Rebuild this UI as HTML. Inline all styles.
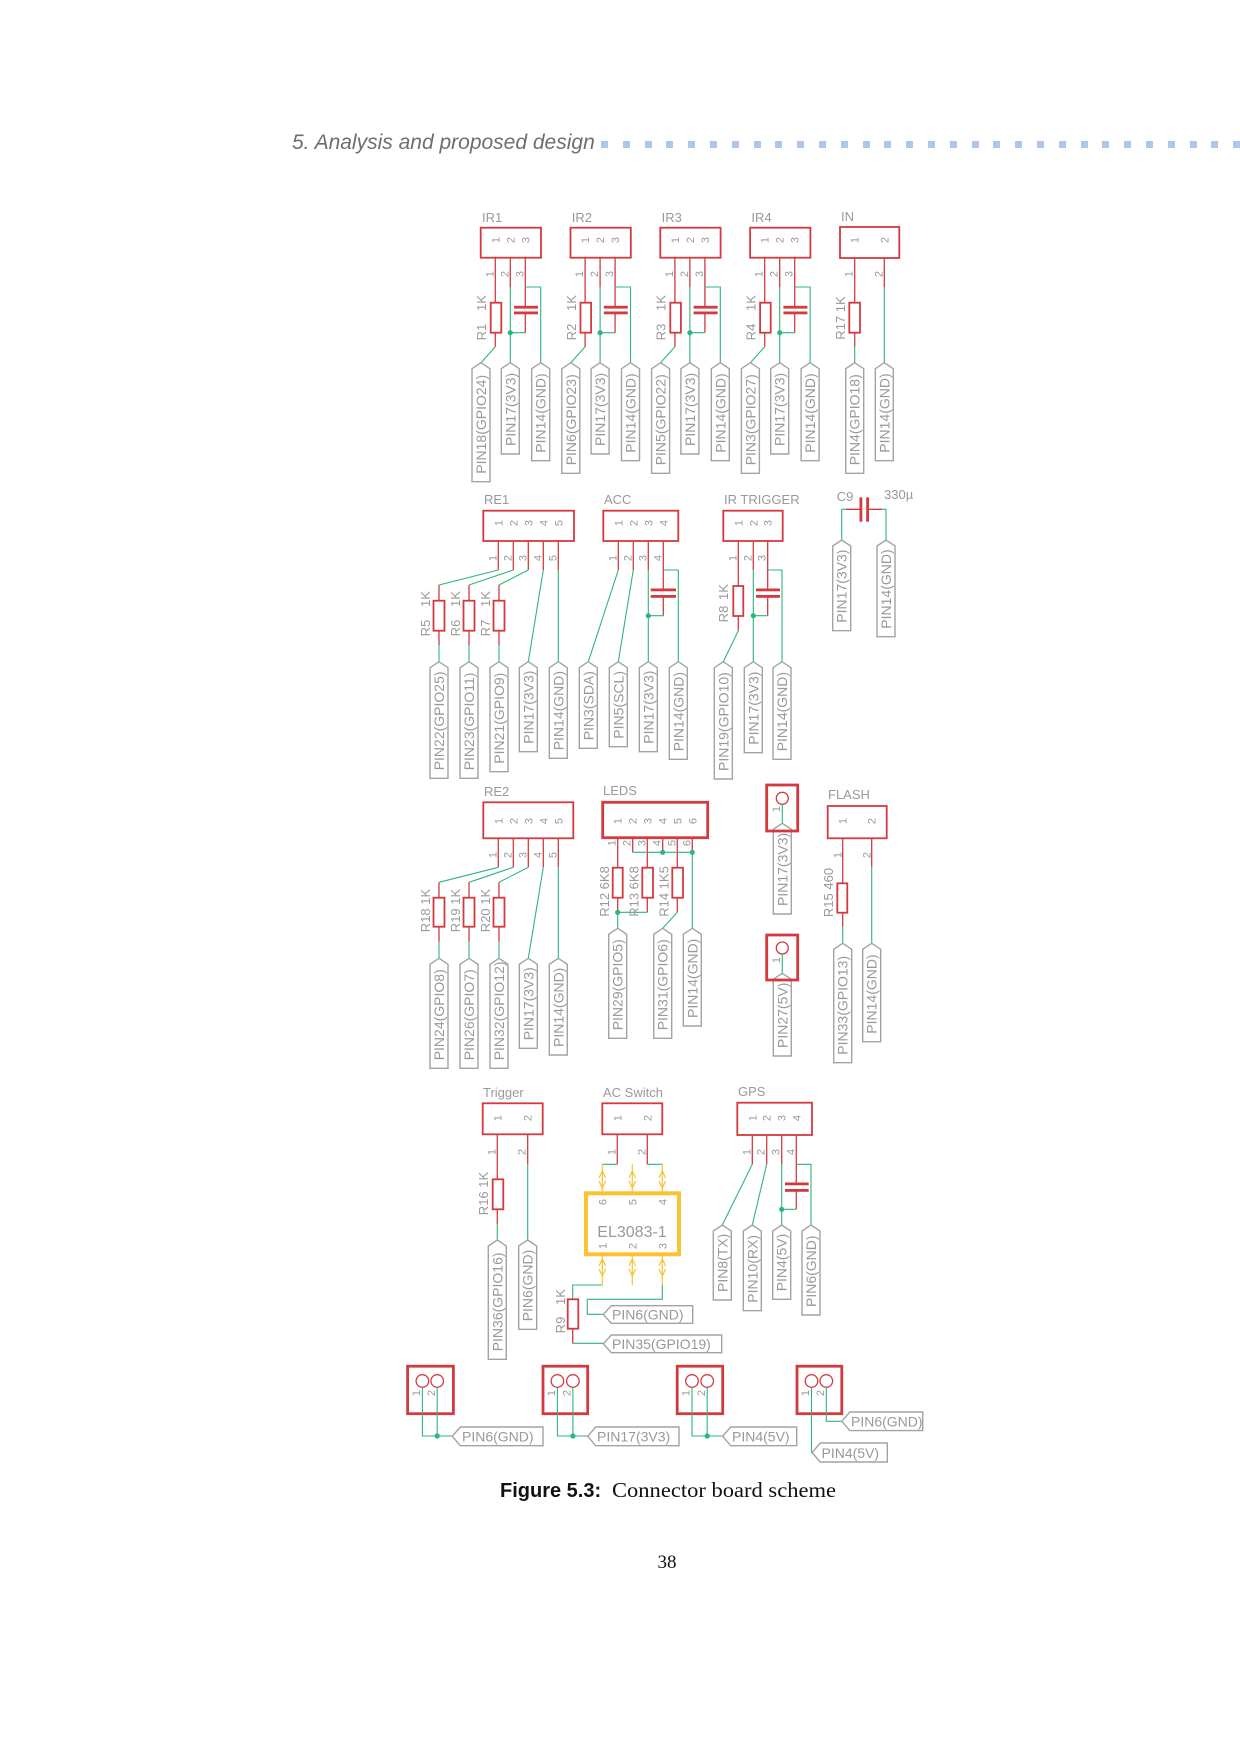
<!DOCTYPE html>
<html><head><meta charset="utf-8"><style>
html,body{margin:0;padding:0;background:#fff;width:1240px;height:1754px;overflow:hidden}
svg{position:absolute;left:0;top:0}
.b{fill:none;stroke:#d33a3f;stroke-width:1.8}
.bt{fill:none;stroke:#d33a3f;stroke-width:2.8}
.r{stroke:#d33a3f;stroke-width:1.3;fill:none}
.g{stroke:#2db57f;stroke-width:1.1;fill:none}
.tg{fill:none;stroke:#a3a3a3;stroke-width:1.4}
.y{stroke:#f8c231;stroke-width:1.2;fill:none}
.cp{fill:#d33a3f}
.d{fill:#2db57f}
text{font-family:"Liberation Sans",sans-serif;fill:#999}
.s14{font-size:14px}.s13{font-size:13px}.s11{font-size:11px}
</style></head><body>
<svg width="1240" height="1754" viewBox="0 0 1240 1754">
<!-- header -->
<text x="292" y="149" style="font-size:21px;font-style:italic;fill:#6e6e6e">5. Analysis and proposed design</text>
<g fill="#adc6ea">
<rect x="601" y="141" width="7" height="7"/><rect x="623" y="141" width="7" height="7"/><rect x="645" y="141" width="7" height="7"/><rect x="666" y="141" width="7" height="7"/><rect x="688" y="141" width="7" height="7"/><rect x="710" y="141" width="7" height="7"/><rect x="732" y="141" width="7" height="7"/><rect x="754" y="141" width="7" height="7"/><rect x="775" y="141" width="7" height="7"/><rect x="797" y="141" width="7" height="7"/><rect x="819" y="141" width="7" height="7"/><rect x="841" y="141" width="7" height="7"/><rect x="863" y="141" width="7" height="7"/><rect x="884" y="141" width="7" height="7"/><rect x="906" y="141" width="7" height="7"/><rect x="928" y="141" width="7" height="7"/><rect x="950" y="141" width="7" height="7"/><rect x="972" y="141" width="7" height="7"/><rect x="993" y="141" width="7" height="7"/><rect x="1015" y="141" width="7" height="7"/><rect x="1037" y="141" width="7" height="7"/><rect x="1059" y="141" width="7" height="7"/><rect x="1081" y="141" width="7" height="7"/><rect x="1102" y="141" width="7" height="7"/><rect x="1124" y="141" width="7" height="7"/><rect x="1146" y="141" width="7" height="7"/><rect x="1168" y="141" width="7" height="7"/><rect x="1190" y="141" width="7" height="7"/><rect x="1211" y="141" width="7" height="7"/><rect x="1233" y="141" width="7" height="7"/>
</g>

<!-- ROW 1: IR groups -->
<g id="ir1">
<rect class="b" x="480.7" y="227.7" width="60.3" height="30"/>
<text class="s11" transform="translate(499.3,240) rotate(-90)" text-anchor="middle">1</text>
<text class="s11" transform="translate(514.3,240) rotate(-90)" text-anchor="middle">2</text>
<text class="s11" transform="translate(529.3,240) rotate(-90)" text-anchor="middle">3</text>
<text class="s11" transform="translate(493.3,274) rotate(-90)" text-anchor="middle">1</text>
<text class="s11" transform="translate(508.3,274) rotate(-90)" text-anchor="middle">2</text>
<text class="s11" transform="translate(523.3,274) rotate(-90)" text-anchor="middle">3</text>
<path class="r" d="M495.3 258V302.7M495.3 332.7V346.7M510.3 258V287M525.3 258V307M525.3 313V332.7"/>
<rect class="r" x="490.7" y="302.7" width="10.6" height="30" style="stroke-width:1.8"/>
<rect class="cp" x="514" y="305.8" width="24" height="2.8"/><rect class="cp" x="514" y="311.5" width="24" height="2.8"/>
<path class="g" d="M495.3 346.7L481 362.7M510.3 287V362.7M525.3 332.7H510.3M525.3 287H540.7V362.7"/>
<circle class="d" cx="510.3" cy="332.7" r="2.6"/>
<path class="tg" d="M510.3 362.7l9 6V454h-18V368.7z"/>
<text class="s14" transform="translate(515.3,446) rotate(-90)">PIN17(3V3)</text>
<path class="tg" d="M540.7 362.7l9 6V460.7h-18V368.7z"/>
<text class="s14" transform="translate(545.7,452.7) rotate(-90)">PIN14(GND)</text>
</g>
<use href="#ir1" x="89.8"/><use href="#ir1" x="179.6"/><use href="#ir1" x="269.4"/>
<text class="s13" x="482" y="222">IR1</text><text class="s13" x="571.8" y="222">IR2</text><text class="s13" x="661.6" y="222">IR3</text><text class="s13" x="751.4" y="222">IR4</text>
<text class="s13" transform="translate(486,303) rotate(-90)" text-anchor="middle">1K</text><text class="s13" transform="translate(486,332) rotate(-90)" text-anchor="middle">R1</text>
<text class="s13" transform="translate(575.8,303) rotate(-90)" text-anchor="middle">1K</text><text class="s13" transform="translate(575.8,332) rotate(-90)" text-anchor="middle">R2</text>
<text class="s13" transform="translate(665.6,303) rotate(-90)" text-anchor="middle">1K</text><text class="s13" transform="translate(665.6,332) rotate(-90)" text-anchor="middle">R3</text>
<text class="s13" transform="translate(755.4,303) rotate(-90)" text-anchor="middle">1K</text><text class="s13" transform="translate(755.4,332) rotate(-90)" text-anchor="middle">R4</text>
<path class="tg" d="M481 362.7l9 6V481.7h-18V368.7z"/><text class="s14" transform="translate(486,473.7) rotate(-90)">PIN18(GPIO24)</text>
<path class="tg" d="M570.8 362.7l9 6V473.3h-18V368.7z"/><text class="s14" transform="translate(575.8,465.3) rotate(-90)">PIN6(GPIO23)</text>
<path class="tg" d="M660.6 362.7l9 6V473.3h-18V368.7z"/><text class="s14" transform="translate(665.6,465.3) rotate(-90)">PIN5(GPIO22)</text>
<path class="tg" d="M750.4 362.7l9 6V473.3h-18V368.7z"/><text class="s14" transform="translate(755.4,465.3) rotate(-90)">PIN3(GPIO27)</text>

<!-- IN -->
<text class="s13" x="841" y="221">IN</text>
<rect class="b" x="840" y="227" width="59.3" height="31"/>
<text class="s11" transform="translate(858.7,240) rotate(-90)" text-anchor="middle">1</text>
<text class="s11" transform="translate(888.3,240) rotate(-90)" text-anchor="middle">2</text>
<text class="s11" transform="translate(852.7,274) rotate(-90)" text-anchor="middle">1</text>
<text class="s11" transform="translate(882.3,274) rotate(-90)" text-anchor="middle">2</text>
<path class="r" d="M854.7 258V302.7M854.7 332.7V346.7M884.3 258V287"/>
<rect class="r" x="849.3" y="302.7" width="10.7" height="30" style="stroke-width:1.8"/>
<path class="g" d="M854.7 346.7V362.7M884.3 287V362.7"/>
<text class="s13" transform="translate(845,318) rotate(-90)" text-anchor="middle">R17 1K</text>
<path class="tg" d="M854.7 362.7l9 6V473.3h-18V368.7z"/><text class="s14" transform="translate(859.7,465.3) rotate(-90)">PIN4(GPIO18)</text>
<path class="tg" d="M884.3 362.7l9 6V460.7h-18V368.7z"/><text class="s14" transform="translate(889.3,452.7) rotate(-90)">PIN14(GND)</text>

<!-- ROW 2: RE1 -->
<text class="s13" x="484" y="504">RE1</text>
<rect class="b" x="483.3" y="510.7" width="90.7" height="30.3"/>
<g class="s11" text-anchor="middle">
<text transform="translate(502.3,523) rotate(-90)">1</text><text transform="translate(517.3,523) rotate(-90)">2</text><text transform="translate(532.3,523) rotate(-90)">3</text><text transform="translate(547.3,523) rotate(-90)">4</text><text transform="translate(562.3,523) rotate(-90)">5</text>
<text transform="translate(496.3,558) rotate(-90)">1</text><text transform="translate(511.3,558) rotate(-90)">2</text><text transform="translate(526.3,558) rotate(-90)">3</text><text transform="translate(541.3,558) rotate(-90)">4</text><text transform="translate(556.3,558) rotate(-90)">5</text>
</g>
<path class="r" d="M498.3 541V570M513.3 541V570M528.3 541V570M543.3 541V570M558.3 541V570M439 585V600.7M439 630.7V645M469 585V600.7M469 630.7V645M499 585V600.7M499 630.7V645"/>
<rect class="r" style="stroke-width:1.8" x="433.5" y="600.7" width="11" height="30"/><rect class="r" style="stroke-width:1.8" x="463.5" y="600.7" width="11" height="30"/><rect class="r" style="stroke-width:1.8" x="493.5" y="600.7" width="11" height="30"/>
<path class="g" d="M498.3 570L439 585M513.3 570L469 585M528.3 570L499 585M439 645V661.7M469 645V661.7M499 645V661.7M543.3 570L528.3 661.7M558.3 570V661.7"/>
<g class="s13" text-anchor="middle">
<text transform="translate(430,599) rotate(-90)">1K</text><text transform="translate(430,628) rotate(-90)">R5</text>
<text transform="translate(460,599) rotate(-90)">1K</text><text transform="translate(460,628) rotate(-90)">R6</text>
<text transform="translate(490,599) rotate(-90)">1K</text><text transform="translate(490,628) rotate(-90)">R7</text>
</g>
<path class="tg" d="M439 661.7l9 6V778.3h-18V667.7z"/><text class="s14" transform="translate(444,770.3) rotate(-90)">PIN22(GPIO25)</text>
<path class="tg" d="M469 661.7l9 6V778.3h-18V667.7z"/><text class="s14" transform="translate(474,770.3) rotate(-90)">PIN23(GPIO11)</text>
<path class="tg" d="M499 661.7l9 6V771.7h-18V667.7z"/><text class="s14" transform="translate(504,763.7) rotate(-90)">PIN21(GPIO9)</text>
<path class="tg" d="M528.3 661.7l9 6V751.7h-18V667.7z"/><text class="s14" transform="translate(533.3,743.7) rotate(-90)">PIN17(3V3)</text>
<path class="tg" d="M558.3 661.7l9 6V758.3h-18V667.7z"/><text class="s14" transform="translate(563.3,750.3) rotate(-90)">PIN14(GND)</text>

<!-- ACC -->
<text class="s13" x="604" y="504">ACC</text>
<rect class="b" x="603.3" y="510.7" width="75" height="30.3"/>
<g class="s11" text-anchor="middle">
<text transform="translate(622.3,523) rotate(-90)">1</text><text transform="translate(637.3,523) rotate(-90)">2</text><text transform="translate(652.3,523) rotate(-90)">3</text><text transform="translate(667.3,523) rotate(-90)">4</text>
<text transform="translate(616.3,558) rotate(-90)">1</text><text transform="translate(631.3,558) rotate(-90)">2</text><text transform="translate(646.3,558) rotate(-90)">3</text><text transform="translate(661.3,558) rotate(-90)">4</text>
</g>
<path class="r" d="M618.3 541V570M633.3 541V570M648.3 541V570M663.3 541V589M663.3 597V615.7"/>
<rect class="cp" x="650.7" y="588.5" width="25.3" height="2.8"/><rect class="cp" x="650.7" y="595" width="25.3" height="2.8"/>
<path class="g" d="M618.3 570L588.3 661.7M633.3 570L618.3 661.7M648.3 570V661.7M663.3 570H678.3V661.7M663.3 615.7H648.3"/>
<circle class="d" cx="648.3" cy="615.7" r="2.6"/>
<path class="tg" d="M588.3 661.7l9 6V748.3h-18V667.7z"/><text class="s14" transform="translate(593.3,740.3) rotate(-90)">PIN3(SDA)</text>
<path class="tg" d="M618.3 661.7l9 6V746.7h-18V667.7z"/><text class="s14" transform="translate(623.3,738.7) rotate(-90)">PIN5(SCL)</text>
<path class="tg" d="M648.3 661.7l9 6V751.7h-18V667.7z"/><text class="s14" transform="translate(653.3,743.7) rotate(-90)">PIN17(3V3)</text>
<path class="tg" d="M678.3 661.7l9 6V759.3h-18V667.7z"/><text class="s14" transform="translate(683.3,751.3) rotate(-90)">PIN14(GND)</text>

<!-- IR TRIGGER -->
<text class="s13" x="724" y="504">IR TRIGGER</text>
<rect class="b" x="723.3" y="510.7" width="59.4" height="30.3"/>
<g class="s11" text-anchor="middle">
<text transform="translate(742.3,523) rotate(-90)">1</text><text transform="translate(757.3,523) rotate(-90)">2</text><text transform="translate(771.7,523) rotate(-90)">3</text>
<text transform="translate(736.3,558) rotate(-90)">1</text><text transform="translate(751.3,558) rotate(-90)">2</text><text transform="translate(765.7,558) rotate(-90)">3</text>
</g>
<path class="r" d="M738.3 541V586M738.3 616V630.7M753.3 541V570M767.7 541V589M767.7 597V615.7"/>
<rect class="r" style="stroke-width:1.8" x="733.3" y="586" width="10" height="30"/>
<rect class="cp" x="756" y="588.5" width="24" height="2.8"/><rect class="cp" x="756" y="595" width="24" height="2.8"/>
<path class="g" d="M738.3 630.7L723.3 661.7M753.3 570V661.7M767.7 570H782V661.7M767.7 615.7H753.3"/>
<circle class="d" cx="753.3" cy="615.7" r="2.6"/>
<text class="s13" transform="translate(728,592) rotate(-90)" text-anchor="middle">1K</text><text class="s13" transform="translate(728,614) rotate(-90)" text-anchor="middle">R8</text>
<path class="tg" d="M723.3 661.7l9 6V779h-18V667.7z"/><text class="s14" transform="translate(728.3,771) rotate(-90)">PIN19(GPIO10)</text>
<path class="tg" d="M753.3 661.7l9 6V752.7h-18V667.7z"/><text class="s14" transform="translate(758.3,744.7) rotate(-90)">PIN17(3V3)</text>
<path class="tg" d="M782 661.7l9 6V759.3h-18V667.7z"/><text class="s14" transform="translate(787,751.3) rotate(-90)">PIN14(GND)</text>

<!-- C9 -->
<text class="s13" x="836.7" y="501">C9</text><text class="s13" x="884" y="499">330µ</text>
<rect class="cp" x="859.5" y="497.3" width="2.8" height="24.4"/><rect class="cp" x="866.2" y="497.3" width="2.8" height="24.4"/>
<path class="r" d="M846 509.3H859.7M869 509.3H882"/>
<path class="g" d="M846 509.3H841.7V540M882 509.3H886V540"/>
<path class="tg" d="M841.7 540l9 6V630.7h-18V546z"/><text class="s14" transform="translate(846.7,622.7) rotate(-90)">PIN17(3V3)</text>
<path class="tg" d="M886 540l9 6V636.7h-18V546z"/><text class="s14" transform="translate(891,628.7) rotate(-90)">PIN14(GND)</text>

<!-- ROW 3: RE2 -->
<text class="s13" x="484" y="796">RE2</text>
<rect class="b" x="483.3" y="802.3" width="90" height="36"/>
<g class="s11" text-anchor="middle">
<text transform="translate(502.3,821) rotate(-90)">1</text><text transform="translate(517.3,821) rotate(-90)">2</text><text transform="translate(532.3,821) rotate(-90)">3</text><text transform="translate(547.3,821) rotate(-90)">4</text><text transform="translate(562.3,821) rotate(-90)">5</text>
<text transform="translate(496.3,855) rotate(-90)">1</text><text transform="translate(511.3,855) rotate(-90)">2</text><text transform="translate(526.3,855) rotate(-90)">3</text><text transform="translate(541.3,855) rotate(-90)">4</text><text transform="translate(556.3,855) rotate(-90)">5</text>
</g>
<path class="r" d="M498.3 838.3V867.3M513.3 838.3V867.3M528.3 838.3V867.3M543.3 838.3V867.3M558.3 838.3V867.3M439 882.3V897.7M439 926.7V941.7M469 882.3V897.7M469 926.7V941.7M499 882.3V897.7M499 926.7V941.7"/>
<rect class="r" style="stroke-width:1.8" x="433.5" y="897.7" width="11" height="29"/><rect class="r" style="stroke-width:1.8" x="463.5" y="897.7" width="11" height="29"/><rect class="r" style="stroke-width:1.8" x="493.5" y="897.7" width="11" height="29"/>
<path class="g" d="M498.3 867.3L439 882.3M513.3 867.3L469 882.3M528.3 867.3L499 882.3M439 941.7V958.3M469 941.7V958.3M499 941.7V958.3M543.3 867.3L528.3 958.3M558.3 867.3V958.3"/>
<g class="s13" text-anchor="middle">
<text transform="translate(430,910.5) rotate(-90)">R18 1K</text><text transform="translate(460,910.5) rotate(-90)">R19 1K</text><text transform="translate(490,910.5) rotate(-90)">R20 1K</text>
</g>
<path class="tg" d="M439 958.3l9 6V1068.3h-18V964.3z"/><text class="s14" transform="translate(444,1060.3) rotate(-90)">PIN24(GPIO8)</text>
<path class="tg" d="M469 958.3l9 6V1068.3h-18V964.3z"/><text class="s14" transform="translate(474,1060.3) rotate(-90)">PIN26(GPIO7)</text>
<path class="tg" d="M499 958.3l9 6V1068.3h-18V964.3z"/><text class="s14" transform="translate(504,1060.3) rotate(-90)">PIN32(GPIO12)</text>
<path class="tg" d="M528.3 958.3l9 6V1048.3h-18V964.3z"/><text class="s14" transform="translate(533.3,1040.3) rotate(-90)">PIN17(3V3)</text>
<path class="tg" d="M558.3 958.3l9 6V1055h-18V964.3z"/><text class="s14" transform="translate(563.3,1047) rotate(-90)">PIN14(GND)</text>

<!-- LEDS -->
<text class="s13" x="603" y="795">LEDS</text>
<rect class="bt" x="602.7" y="802.3" width="105" height="35.4"/>
<g class="s11" text-anchor="middle">
<text transform="translate(621.7,821) rotate(-90)">1</text><text transform="translate(636.7,821) rotate(-90)">2</text><text transform="translate(651.3,821) rotate(-90)">3</text><text transform="translate(666.7,821) rotate(-90)">4</text><text transform="translate(681.3,821) rotate(-90)">5</text><text transform="translate(696.3,821) rotate(-90)">6</text>
<text transform="translate(615.7,843) rotate(-90)">1</text><text transform="translate(630.7,843) rotate(-90)">2</text><text transform="translate(645.3,843) rotate(-90)">3</text><text transform="translate(660.7,843) rotate(-90)">4</text><text transform="translate(675.3,843) rotate(-90)">5</text><text transform="translate(690.3,843) rotate(-90)">6</text>
</g>
<path class="r" d="M617.7 837.7V867.7M617.7 897.7V912.3M632.7 837.7V852.3M647.3 837.7V867.7M647.3 897.7V912.3M662.7 837.7V852.3M677.3 837.7V867.7M677.3 897.7V912.3M692.3 837.7V852.3"/>
<rect class="r" style="stroke-width:1.8" x="612.7" y="867.7" width="10" height="30"/><rect class="r" style="stroke-width:1.8" x="642.3" y="867.7" width="10.7" height="30"/><rect class="r" style="stroke-width:1.8" x="672.3" y="867.7" width="10.7" height="30"/>
<path class="g" d="M632.7 852.3H692.3V928.3M617.7 912.3V928.3M617.7 912.3H647.3M677.3 912.3L662.7 928.3"/>
<circle class="d" cx="662.7" cy="852.3" r="2.6"/><circle class="d" cx="692.3" cy="852.3" r="2.6"/><circle class="d" cx="617.7" cy="912.3" r="2.6"/>
<g class="s13" text-anchor="middle">
<text transform="translate(609,891.5) rotate(-90)">R12 6K8</text><text transform="translate(638.3,891.5) rotate(-90)">R13 6K8</text><text transform="translate(668.3,891.5) rotate(-90)">R14 1K5</text>
</g>
<path class="tg" d="M617.7 928.3l9 6V1038.3h-18V934.3z"/><text class="s14" transform="translate(622.7,1030.3) rotate(-90)">PIN29(GPIO5)</text>
<path class="tg" d="M662.7 928.3l9 6V1038.3h-18V934.3z"/><text class="s14" transform="translate(667.7,1030.3) rotate(-90)">PIN31(GPIO6)</text>
<path class="tg" d="M692.3 928.3l9 6V1026h-18V934.3z"/><text class="s14" transform="translate(697.3,1018) rotate(-90)">PIN14(GND)</text>

<!-- single headers -->
<path class="tg" d="M782.3 823.3l9 6V914h-18V829.3z"/><text class="s14" transform="translate(787.3,906) rotate(-90)">PIN17(3V3)</text>
<rect class="bt" x="766.7" y="785" width="31" height="46"/>
<circle cx="782.3" cy="798.3" r="6" class="r"/>
<path class="g" d="M782.3 804.3V823.3"/>
<text class="s11" transform="translate(780,809) rotate(-90)" text-anchor="middle">1</text>
<path class="tg" d="M782.3 973.3l9 6V1056h-18V979.3z"/><text class="s14" transform="translate(787.3,1048) rotate(-90)">PIN27(5V)</text>
<rect class="bt" x="766.7" y="935" width="31" height="45"/>
<circle cx="782.3" cy="948" r="6" class="r"/>
<path class="g" d="M782.3 954V973.3"/>
<text class="s11" transform="translate(780,960) rotate(-90)" text-anchor="middle">1</text>

<!-- FLASH -->
<text class="s13" x="828" y="799">FLASH</text>
<rect class="b" x="827.7" y="806" width="59" height="32.3"/>
<g class="s11" text-anchor="middle">
<text transform="translate(846.7,821) rotate(-90)">1</text><text transform="translate(875.7,821) rotate(-90)">2</text>
<text transform="translate(841.7,855) rotate(-90)">1</text><text transform="translate(870.7,855) rotate(-90)">2</text>
</g>
<path class="r" d="M842.7 838.3V883.3M842.7 912.7V926.7M871.7 838.3V866.7"/>
<rect class="r" style="stroke-width:1.8" x="837.3" y="883.3" width="10" height="29.4"/>
<path class="g" d="M842.7 926.7V943.3M871.7 866.7V943.3"/>
<text class="s13" transform="translate(833,892.5) rotate(-90)" text-anchor="middle">R15 460</text>
<path class="tg" d="M842.7 943.3l9 6V1062.7h-18V949.3z"/><text class="s14" transform="translate(847.7,1054.7) rotate(-90)">PIN33(GPIO13)</text>
<path class="tg" d="M871.7 943.3l9 6V1041.7h-18V949.3z"/><text class="s14" transform="translate(876.7,1033.7) rotate(-90)">PIN14(GND)</text>

<!-- ROW 4: Trigger -->
<text class="s13" x="483" y="1097">Trigger</text>
<rect class="b" x="482.7" y="1103.3" width="60" height="31"/>
<g class="s11" text-anchor="middle">
<text transform="translate(501.3,1118) rotate(-90)">1</text><text transform="translate(531.7,1118) rotate(-90)">2</text>
<text transform="translate(495.3,1152) rotate(-90)">1</text><text transform="translate(525.7,1152) rotate(-90)">2</text>
</g>
<path class="r" d="M497.3 1134.3V1179.3M497.3 1209.3V1224M527.7 1134.3V1164"/>
<rect class="r" style="stroke-width:1.8" x="492.7" y="1179.3" width="10.6" height="30"/>
<path class="g" d="M497.3 1224V1240M527.7 1164V1240"/>
<text class="s13" transform="translate(488,1193.5) rotate(-90)" text-anchor="middle">R16 1K</text>
<path class="tg" d="M497.3 1240l9 6V1359.3h-18V1246z"/><text class="s14" transform="translate(502.3,1351.3) rotate(-90)">PIN36(GPIO16)</text>
<path class="tg" d="M527.7 1240l9 6V1329.3h-18V1246z"/><text class="s14" transform="translate(532.7,1321.3) rotate(-90)">PIN6(GND)</text>

<!-- AC Switch -->
<text class="s13" x="603" y="1097">AC Switch</text>
<rect class="b" x="602.3" y="1103.3" width="60" height="31"/>
<g class="s11" text-anchor="middle">
<text transform="translate(621.3,1118) rotate(-90)">1</text><text transform="translate(651.3,1118) rotate(-90)">2</text>
<text transform="translate(615.3,1152) rotate(-90)">1</text><text transform="translate(645.3,1152) rotate(-90)">2</text>
</g>
<path class="r" d="M617.3 1134.3V1164.3M647.3 1134.3V1164.3"/>
<path class="g" d="M617.3 1164.3H602.3M647.3 1164.3H662.3"/>
<path class="y" d="M602.3 1164.3V1193M632.3 1164.3V1193M662.3 1164.3V1193M602.3 1254V1285M632.3 1254V1285M662.3 1254V1285"/>
<path class="y" d="M599 1178l3.3-7 3.3 7M599 1181l3.3 7 3.3-7M629 1178l3.3-7 3.3 7M629 1181l3.3 7 3.3-7M659 1178l3.3-7 3.3 7M659 1181l3.3 7 3.3-7M599 1266l3.3-7 3.3 7M599 1269l3.3 7 3.3-7M629 1266l3.3-7 3.3 7M629 1269l3.3 7 3.3-7M659 1266l3.3-7 3.3 7M659 1269l3.3 7 3.3-7"/>
<rect x="586" y="1193.3" width="93" height="61" fill="none" stroke="#fbc231" stroke-width="4"/>
<g class="s11" text-anchor="middle">
<text transform="translate(606.3,1202) rotate(-90)">6</text><text transform="translate(636.3,1202) rotate(-90)">5</text><text transform="translate(666.3,1202) rotate(-90)">4</text>
<text transform="translate(606.3,1246) rotate(-90)">1</text><text transform="translate(636.3,1246) rotate(-90)">2</text><text transform="translate(666.3,1246) rotate(-90)">3</text>
</g>
<text x="632" y="1237" text-anchor="middle" style="font-size:16px">EL3083-1</text>
<path class="g" d="M602.3 1285H572.7V1299.3M572.7 1343.3H603.3M662.3 1285V1299.3H587.3V1314.3H603.3"/>
<path class="r" d="M572.7 1328.7V1343.3"/>
<rect class="r" style="stroke-width:1.8" x="567.7" y="1299.3" width="10.6" height="29.4"/>
<text class="s13" transform="translate(565,1297) rotate(-90)" text-anchor="middle">1K</text><text class="s13" transform="translate(565,1325) rotate(-90)" text-anchor="middle">R9</text>
<path class="tg" d="M603.3 1314.5l8-8.8H692.7V1323.3H611.3z"/><text class="s14" x="612" y="1319.5">PIN6(GND)</text>
<path class="tg" d="M603.3 1343.8l8-8.8H721.7V1352.7H611.3z"/><text class="s14" x="612" y="1349">PIN35(GPIO19)</text>

<!-- GPS -->
<text class="s13" x="738" y="1096">GPS</text>
<rect class="b" x="737.3" y="1102.7" width="74.7" height="32.3"/>
<g class="s11" text-anchor="middle">
<text transform="translate(756.3,1118) rotate(-90)">1</text><text transform="translate(770.7,1118) rotate(-90)">2</text><text transform="translate(785.7,1118) rotate(-90)">3</text><text transform="translate(800.3,1118) rotate(-90)">4</text>
<text transform="translate(750.3,1152) rotate(-90)">1</text><text transform="translate(764.7,1152) rotate(-90)">2</text><text transform="translate(779.7,1152) rotate(-90)">3</text><text transform="translate(794.3,1152) rotate(-90)">4</text>
</g>
<path class="r" d="M752.3 1135V1164.3M766.7 1135V1164.3M781.7 1135V1164.3M796.3 1135V1183M796.3 1191V1209.3"/>
<rect class="cp" x="785" y="1182.5" width="23.7" height="2.8"/><rect class="cp" x="785" y="1189" width="23.7" height="2.8"/>
<path class="g" d="M752.3 1164.3L722.3 1225M766.7 1164.3L752.3 1225M781.7 1164.3V1225M796.3 1164.3H811V1225M796.3 1209.3H781.7"/>
<circle class="d" cx="781.7" cy="1209.3" r="2.6"/>
<path class="tg" d="M722.3 1225l9 6V1300h-18V1231z"/><text class="s14" transform="translate(727.3,1292) rotate(-90)">PIN8(TX)</text>
<path class="tg" d="M752.3 1225l9 6V1310.7h-18V1231z"/><text class="s14" transform="translate(757.3,1302.7) rotate(-90)">PIN10(RX)</text>
<path class="tg" d="M781.7 1225l9 6V1299.3h-18V1231z"/><text class="s14" transform="translate(786.7,1291.3) rotate(-90)">PIN4(5V)</text>
<path class="tg" d="M811 1225l9 6V1315h-18V1231z"/><text class="s14" transform="translate(816,1307) rotate(-90)">PIN6(GND)</text>

<!-- ROW 5 -->
<g>
<rect class="bt" x="407.6" y="1366.2" width="45.8" height="47.5"/>
<circle class="r" cx="422.4" cy="1381" r="6.3"/><circle class="r" cx="437.2" cy="1381" r="6.3"/>
<text class="s11" transform="translate(420,1393) rotate(-90)" text-anchor="middle">1</text><text class="s11" transform="translate(435,1393) rotate(-90)" text-anchor="middle">2</text>
<path class="g" d="M422.4 1387.3V1436H452.3M437.2 1387.3V1436"/><circle class="d" cx="437.2" cy="1436" r="2.6"/>
<path class="tg" d="M452.3 1436.3l8-9.3H543V1445.7H460.3z"/><text class="s14" x="462" y="1441.5">PIN6(GND)</text>

<rect class="bt" x="543" y="1366.2" width="44.7" height="47.5"/>
<circle class="r" cx="557.4" cy="1381" r="6.3"/><circle class="r" cx="572.9" cy="1381" r="6.3"/>
<text class="s11" transform="translate(555,1393) rotate(-90)" text-anchor="middle">1</text><text class="s11" transform="translate(570.5,1393) rotate(-90)" text-anchor="middle">2</text>
<path class="g" d="M557.4 1387.3V1436H587.7M572.9 1387.3V1436"/><circle class="d" cx="572.9" cy="1436" r="2.6"/>
<path class="tg" d="M587.7 1436.3l8-9.3H679V1445.7H595.7z"/><text class="s14" x="597" y="1441.5">PIN17(3V3)</text>

<rect class="bt" x="677.2" y="1366.2" width="45.5" height="47.5"/>
<circle class="r" cx="692" cy="1381" r="6.3"/><circle class="r" cx="707.2" cy="1381" r="6.3"/>
<text class="s11" transform="translate(689.6,1393) rotate(-90)" text-anchor="middle">1</text><text class="s11" transform="translate(704.8,1393) rotate(-90)" text-anchor="middle">2</text>
<path class="g" d="M692 1387.3V1436H722.7M707.2 1387.3V1436"/><circle class="d" cx="707.2" cy="1436" r="2.6"/>
<path class="tg" d="M722.7 1436.3l8-9.3H796.7V1445.7H730.7z"/><text class="s14" x="732" y="1441.5">PIN4(5V)</text>

<rect class="bt" x="797" y="1366.2" width="44.8" height="47.5"/>
<circle class="r" cx="811.5" cy="1381" r="6.3"/><circle class="r" cx="826.3" cy="1381" r="6.3"/>
<text class="s11" transform="translate(809,1393) rotate(-90)" text-anchor="middle">1</text><text class="s11" transform="translate(824,1393) rotate(-90)" text-anchor="middle">2</text>
<path class="g" d="M826.3 1387.3V1421.3H841.8M811.5 1387.3V1452.6H812.2"/>
<path class="tg" d="M841.8 1421.3l8-9.3H922.7V1430.6H849.8z"/><text class="s14" x="851" y="1426.5">PIN6(GND)</text>
<path class="tg" d="M812.2 1452.6l8-9.6H887.3V1462H820.2z"/><text class="s14" x="821.5" y="1458">PIN4(5V)</text>
</g>

<!-- caption -->
<text x="500" y="1497" style="font-size:20px;font-weight:bold;fill:#111">Figure 5.3:</text>
<text x="612" y="1497" textLength="224" lengthAdjust="spacingAndGlyphs" style="font-family:'Liberation Serif',serif;font-size:21.5px;fill:#111">Connector board scheme</text>
<text x="667" y="1568" text-anchor="middle" style="font-family:'Liberation Serif',serif;font-size:19px;fill:#111">38</text>
</svg>
</body></html>
